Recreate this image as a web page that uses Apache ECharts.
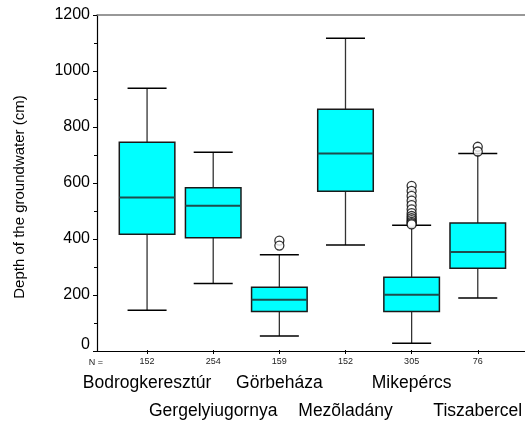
<!DOCTYPE html>
<html>
<head>
<meta charset="utf-8">
<script src="https://cdn.jsdelivr.net/npm/echarts@6/dist/echarts.min.js"></script>
<style>html,body{margin:0;padding:0;background:#fff}#c{width:525px;height:425px}</style>
</head>
<body>
<div id="c"></div>
<script>
const categories = ['Bodrogkeresztúr','Gergelyiugornya','Görbeháza','Mezõladány','Mikepércs','Tiszabercel'];
const counts = ['152','254','159','152','305','76'];
const lowWhisker = [142, 238, 50, 376, 24, 186];
const q1 = [415, 402, 138, 569, 138, 293];
const median = [546, 517, 180, 704, 198, 351];
const q3 = [744, 581, 225, 862, 261, 455];
const highWhisker = [938, 708, 341, 1117, 447, 704];
const outliersGorbehaza = [392, 374];
const outliersMikepercs = [588, 570, 552, 535, 519, 504, 490, 480, 472, 465, 459, 454, 450];
const outliersTiszabercel = [728, 711];
const yTicks = [0, 200, 400, 600, 800, 1000, 1200];

const boxData = categories.map((c, i) => [i, lowWhisker[i], q1[i], median[i], q3[i], highWhisker[i]]);
const outlierData = [];
outliersGorbehaza.forEach(v => outlierData.push([2, v]));
outliersMikepercs.forEach(v => outlierData.push([4, v]));
outliersTiszabercel.forEach(v => outlierData.push([5, v]));

const font = 'Liberation Sans, Arial, sans-serif';
const chart = echarts.init(document.getElementById('c'));
chart.setOption({
  animation: false,
  grid: [
    {left: 114, top: 15, width: 399, height: 336},
    {left: 97, top: 15, right: 0, height: 336}
  ],
  xAxis: [
    {gridIndex: 0, type: 'category', data: categories, boundaryGap: true,
     axisLine: {show: false},
     axisTick: {show: true, alignWithLabel: true, length: 4, lineStyle: {color: '#000'}},
     axisLabel: {interval: 0, margin: 7, fontSize: 9, color: '#222', fontFamily: font,
       formatter: (v, i) => counts[i]}},
    {gridIndex: 0, type: 'category', data: categories, position: 'bottom', boundaryGap: true,
     axisLine: {show: false}, axisTick: {show: false},
     axisLabel: {interval: 0, margin: 19, fontSize: 17.5, lineHeight: 28, color: '#000', fontFamily: font,
       formatter: (v, i) => (i % 2 === 0 ? v + '\n ' : ' \n' + v)}},
    {gridIndex: 1, type: 'value', min: 0, max: 1, position: 'bottom',
     axisLine: {show: true, lineStyle: {color: '#000', width: 1.2}},
     axisTick: {show: false}, axisLabel: {show: false}, splitLine: {show: false}},
    {gridIndex: 1, type: 'value', min: 0, max: 1, position: 'top',
     axisLine: {show: true, lineStyle: {color: '#777', width: 1.5}},
     axisTick: {show: false}, axisLabel: {show: false}, splitLine: {show: false}}
  ],
  yAxis: [
    {gridIndex: 0, type: 'value', min: 0, max: 1200, interval: 200, show: false},
    {gridIndex: 1, type: 'value', min: 0, max: 1200, interval: 200,
     axisLine: {show: true, lineStyle: {color: '#000', width: 1.2}},
     axisTick: {show: true, length: 4, lineStyle: {color: '#000'}},
     minorTick: {show: true, splitNumber: 2, length: 3, lineStyle: {color: '#000'}},
     axisLabel: {margin: 7, fontSize: 16, color: '#000', fontFamily: font,
       formatter: v => (v === 0 ? '{z|0}' : (yTicks.indexOf(v) >= 0 ? String(v) : '')),
       rich: {z: {fontSize: 16, color: '#000', fontFamily: font, padding: [0, 0, 12, 0]}}},
     splitLine: {show: false}}
  ],
  series: [
    {type: 'custom', xAxisIndex: 0, yAxisIndex: 0, data: boxData,
     renderItem: function (params, api) {
       const x = api.value(0);
       const lo = api.coord([x, api.value(1)]);
       const b1 = api.coord([x, api.value(2)]);
       const md = api.coord([x, api.value(3)]);
       const b3 = api.coord([x, api.value(4)]);
       const hi = api.coord([x, api.value(5)]);
       const band = api.size([1, 0])[0];
       const bw = band * 0.84, cw = band * 0.59;
       const cx = lo[0];
       const ws = {stroke: '#333', lineWidth: 1.3};
       const cs = {stroke: '#000', lineWidth: 1.5};
       return {type: 'group', children: [
         {type: 'line', shape: {x1: cx, y1: lo[1], x2: cx, y2: b1[1]}, style: ws},
         {type: 'line', shape: {x1: cx, y1: b3[1], x2: cx, y2: hi[1]}, style: ws},
         {type: 'line', shape: {x1: cx - cw / 2, y1: lo[1], x2: cx + cw / 2, y2: lo[1]}, style: cs},
         {type: 'line', shape: {x1: cx - cw / 2, y1: hi[1], x2: cx + cw / 2, y2: hi[1]}, style: cs},
         {type: 'rect', shape: {x: cx - bw / 2, y: b3[1], width: bw, height: b1[1] - b3[1]},
          style: {fill: '#00FFFF', stroke: '#1a1a1a', lineWidth: 1.5}},
         {type: 'line', shape: {x1: cx - bw / 2, y1: md[1], x2: cx + bw / 2, y2: md[1]},
          style: {stroke: '#1e4d4d', lineWidth: 2}}
       ]};
     }},
    {type: 'scatter', xAxisIndex: 0, yAxisIndex: 0, data: outlierData,
     symbol: 'circle', symbolSize: 9,
     itemStyle: {color: '#fff', borderColor: '#000', borderWidth: 1.3}}
  ],
  graphic: [
    {type: 'text', x: 96, y: 363, style: {text: 'N =', fontSize: 9, fill: '#222', fontFamily: font, align: 'center', verticalAlign: 'middle'}},
    {type: 'text', x: 20, y: 197, rotation: Math.PI / 2,
     style: {text: 'Depth of the groundwater (cm)', fontSize: 15, fill: '#000', fontFamily: font, align: 'center', verticalAlign: 'middle'}}
  ]
});
</script>
</body>
</html>
